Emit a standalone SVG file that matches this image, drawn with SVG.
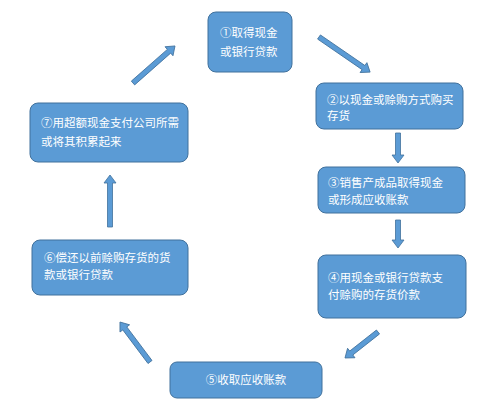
<svg xmlns="http://www.w3.org/2000/svg" width="500" height="413" viewBox="0 0 500 413">
<style>
.box{fill:#5B9BD5;stroke:#41719C;stroke-width:1}
.t{font-family:"Noto Sans CJK SC","Noto Sans",sans-serif;font-size:11.5px;fill:#FFFFFF}
.arr{fill:#5B9BD5;stroke:#41719C;stroke-width:0.8}
</style>
<rect width="500" height="413" fill="#FFFFFF"/>
<g id="connectors">
<polygon class="arr" transform="translate(133,83) rotate(-41.4)" points="0,-2.5 48,-2.5 48,-6 56,0 48,6 48,2.5 0,2.5"/>
<polygon class="arr" transform="translate(319,37) rotate(34.5)" points="0,-2.5 54,-2.5 54,-6 62,0 54,6 54,2.5 0,2.5"/>
<polygon class="arr" transform="translate(398,133) rotate(90)" points="0,-2.5 22,-2.5 22,-6 30,0 22,6 22,2.5 0,2.5"/>
<polygon class="arr" transform="translate(398,220) rotate(90)" points="0,-2.5 20,-2.5 20,-6 28,0 20,6 20,2.5 0,2.5"/>
<polygon class="arr" transform="translate(378,332) rotate(141.8)" points="0,-2.5 34,-2.5 34,-6 42,0 34,6 34,2.5 0,2.5"/>
<polygon class="arr" transform="translate(150,362) rotate(-126.9)" points="0,-2.5 42,-2.5 42,-6 50,0 42,6 42,2.5 0,2.5"/>
<polygon class="arr" transform="translate(110,227) rotate(-90)" points="0,-2.5 44,-2.5 44,-6 52,0 44,6 44,2.5 0,2.5"/>
</g>
<g id="n1">
<rect class="box" x="208" y="12" width="84" height="60" rx="8"/>
<text class="t" x="220" y="37">①取得现金</text>
<text class="t" x="220" y="56">或银行贷款</text>
</g>
<g id="n2">
<rect class="box" x="316" y="83" width="147" height="46" rx="8"/>
<text class="t" x="327" y="104">②以现金或赊购方式购买</text>
<text class="t" x="327" y="120">存货</text>
</g>
<g id="n3">
<rect class="box" x="318" y="167" width="147" height="46" rx="8"/>
<text class="t" x="328" y="187">③销售产成品取得现金</text>
<text class="t" x="328" y="204">或形成应收账款</text>
</g>
<g id="n4">
<rect class="box" x="318" y="255" width="148" height="63" rx="8"/>
<text class="t" x="328" y="282">④用现金或银行贷款支</text>
<text class="t" x="328" y="299">付赊购的存货价款</text>
</g>
<g id="n5">
<rect class="box" x="170" y="362" width="152" height="36" rx="7"/>
<text class="t" x="246" y="384" text-anchor="middle">⑤收取应收账款</text>
</g>
<g id="n6">
<rect class="box" x="32" y="240" width="156" height="55" rx="8"/>
<text class="t" x="44" y="262">⑥偿还以前赊购存货的货</text>
<text class="t" x="44" y="279">款或银行贷款</text>
</g>
<g id="n7">
<rect class="box" x="30" y="103" width="158" height="59" rx="8"/>
<text class="t" x="41" y="127">⑦用超额现金支付公司所需</text>
<text class="t" x="41" y="146">或将其积累起来</text>
</g>
</svg>
